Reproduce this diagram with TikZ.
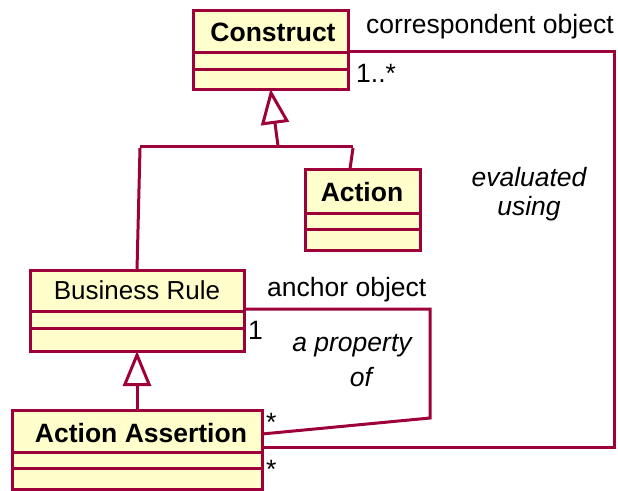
\documentclass[tikz,border=0pt]{standalone}
\usepackage{fontspec}
\setmainfont{Liberation Sans}
\usetikzlibrary{arrows.meta}
\definecolor{umlline}{RGB}{158,0,58}
\definecolor{umlfill}{RGB}{255,255,204}
\tikzset{
  cls/.style={draw=umlline, fill=umlfill, line width=3pt, rectangle,
    inner sep=0pt, outer sep=0pt, anchor=north west},
  divider/.style={draw=umlline, line width=3pt},
  conn/.style={draw=umlline, line width=3pt, line join=miter},
  gen/.style={conn, -{Triangle[open, length=35pt, width=28pt, line width=3pt]}},
  title/.style={font=\fontsize{26.5}{31}\selectfont\bfseries, inner sep=0pt},
  ctitle/.style={font=\fontsize{26}{31}\selectfont, inner sep=0pt},
  lbl/.style={font=\fontsize{26.5}{31}\selectfont, inner sep=0pt},
  ilbl/.style={font=\fontsize{26.5}{31}\selectfont\itshape, inner sep=0pt},
  mult/.style={font=\fontsize{26.5}{31}\selectfont, inner sep=0pt},
}
\begin{document}
\begin{tikzpicture}[x=1pt, y=-1pt]
\useasboundingbox (0,0) rectangle (618,490);

% class boxes
\node[cls, minimum width=155pt, minimum height=79pt] (construct) at (193,10) {};
\node[cls, minimum width=115pt, minimum height=81pt] (action) at (305,169) {};
\node[cls, minimum width=214pt, minimum height=81pt] (rule) at (30,270) {};
\node[cls, minimum width=250pt, minimum height=79pt] (assertion) at (12,410) {};

% compartment dividers
\draw[divider] (construct.west |- 0,52) -- (construct.east |- 0,52);
\draw[divider] (construct.west |- 0,69) -- (construct.east |- 0,69);
\draw[divider] (action.west |- 0,213) -- (action.east |- 0,213);
\draw[divider] (action.west |- 0,229) -- (action.east |- 0,229);
\draw[divider] (rule.west |- 0,311) -- (rule.east |- 0,311);
\draw[divider] (rule.west |- 0,328) -- (rule.east |- 0,328);
\draw[divider] (assertion.west |- 0,452) -- (assertion.east |- 0,452);
\draw[divider] (assertion.west |- 0,468) -- (assertion.east |- 0,468);

% class names
\node[title] (tconstruct) at (273,32) {Construct};
\node[title] (taction) at (362,192) {Action};
\node[ctitle] (trule) at (137,290) {Business Rule};
\node[title] (tassertion) at (141,433) {Action Assertion};

% generalization: Action and Business Rule specialise Construct
\coordinate (join) at (278,146);
\coordinate (joinL) at (140,146);
\coordinate (joinR) at (353,146);
\draw[gen] (join) -- (construct.south);
\draw[conn] (joinL) -- (joinR);
\draw[conn] (140,148) -- (rule.north);
\draw[conn] (353,148) -- (action.north -| 350,0);

% generalization: Action Assertion specialises Business Rule
\draw[gen] (assertion.north) -- (rule.south);

% association: anchor object
\coordinate (a1) at (430,309);
\coordinate (a2) at (430,418);
\draw[conn] (rule.east |- a1) -- (a1) -- (a2) -- (assertion.east |- 0,434);

% association: correspondent object
\coordinate (c1) at (614,51);
\coordinate (c2) at (614,447);
\draw[conn] (construct.east |- c1) -- (c1) -- (c2) -- (assertion.east |- c2);

% association labels and multiplicities
\node[lbl, anchor=west] (lcorr) at (366,27) {correspondent object};
\node[mult, anchor=west] (m1) at (356,73) {1..*};
\node[ilbl] (leval) at (529,177) {evaluated};
\node[ilbl] (lusing) at (529,209) {using};
\node[lbl, anchor=west] (lanchor) at (267,290) {anchor object};
\node[mult, anchor=west] (m2) at (248,330) {1};
\node[ilbl] (lprop) at (352,346) {a property};
\node[ilbl] (lof) at (361,377) {of};
\node[mult, anchor=west] (m3) at (266,422) {*};
\node[mult, anchor=west] (m4) at (266,469) {*};
\end{tikzpicture}
\end{document}
